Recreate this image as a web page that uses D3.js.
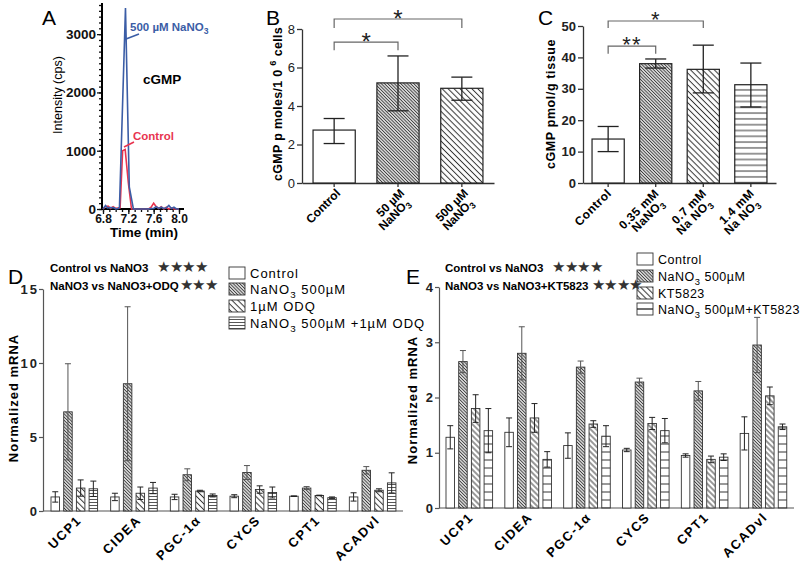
<!DOCTYPE html>
<html><head><meta charset="utf-8">
<script src="https://cdn.jsdelivr.net/npm/d3@7"></script>
<style>
body{margin:0;background:#fff}
svg{font-family:"Liberation Sans",Arial,sans-serif}
</style>
</head><body>
<svg id="c" width="800" height="567"></svg>
<script>
// ---------------- DATA ----------------
// Panel A: chromatogram
const aTimeBlue = [6.80,6.84,6.87,6.92,6.98,7.00,7.04,7.06,7.155,7.215,7.28,7.32,7.40,7.50,7.60,7.64,7.68,7.72,7.76,7.80,7.84,7.88,7.92,7.96,8.00];
const aBlue     = [0,60,20,25,20,0,10,30,3450,380,0,0,0,0,10,40,10,30,10,20,60,10,30,0,0];
const aTimeRed  = [6.80,6.84,6.88,6.92,6.96,7.00,7.07,7.11,7.15,7.20,7.25,7.30,7.40,7.52,7.56,7.60,7.64,7.68,7.72,7.76,7.80,7.84,7.88,7.92,8.00];
const aRed      = [0,40,50,10,40,10,20,1000,1020,450,0,0,0,0,30,100,40,10,40,0,30,0,20,0,0];
const aYTicks = [0,1000,2000,3000];
const aXTicks = [6.8,7.2,7.6,8.0];

// Panel B
const bCategories = ["Control","50 µM|NaNO_3","500 µM|NaNO_3"];
const bMeans = [2.75,5.2,4.92];
const bLow   = [2.05,3.75,4.3];
const bHigh  = [3.35,6.6,5.5];
const bYTicks = [0,2,4,6,8];
const bBrackets = [{from:0,to:1,level:7.32,leg:6.9,label:"*"},{from:0,to:2,level:8.52,leg:8.05,label:"*"}];

// Panel C
const cCategories = ["Control","0.35 mM|NaNO_3","0.7 mM|Na NO_3","1.4 mM|Na NO_3"];
const cMeans = [14,38,36.2,31.3];
const cLow   = [10,36.6,28.7,24.2];
const cHigh  = [18,39.5,43.9,38.2];
const cYTicks = [0,10,20,30,40,50];
const cBrackets = [{from:0,to:1,level:43.6,leg:41.2,label:"**"},{from:0,to:2,level:51.6,leg:49.4,label:"*"}];

// Panels D & E
const genes = ["UCP1","CIDEA","PGC-1α","CYCS","CPT1","ACADvl"];
const dSeries = ["Control","NaNO_3 500µM","1µM ODQ","NaNO_3 500µM +1µM ODQ"];
const dControl = [0.95,0.95,0.95,1.0,1.0,0.95];
const dNitrate = [6.7,8.6,2.45,2.6,1.55,2.75];
const dODQ     = [1.55,1.2,1.35,1.45,1.05,1.4];
const dCombo   = [1.5,1.55,1.05,1.25,0.9,1.9];
const dControlErr = [0.35,0.25,0.18,0.1,0.02,0.28];
const dNitrateErr = [3.25,5.2,0.4,0.47,0.1,0.25];
const dODQErr     = [0.55,0.42,0.05,0.25,0.02,0.1];
const dComboErr   = [0.52,0.38,0.1,0.37,0.05,0.68];
const dYTicks = [0,5,10,15];

const eSeries = ["Control","NaNO_3 500µM","KT5823","NaNO_3 500µM+KT5823"];
const eControl = [1.28,1.37,1.13,1.05,0.95,1.35];
const eNitrate = [2.65,2.8,2.55,2.28,2.12,2.95];
const eKT      = [1.8,1.63,1.52,1.53,0.88,2.03];
const eCombo   = [1.4,0.88,1.3,1.4,0.92,1.47];
const eControlErr = [0.21,0.26,0.23,0.03,0.03,0.3];
const eNitrateErr = [0.2,0.48,0.11,0.07,0.17,0.5];
const eKTErr      = [0.25,0.26,0.06,0.11,0.06,0.16];
const eComboErr   = [0.4,0.14,0.19,0.22,0.06,0.05];
const eYTicks = [0,1,2,3,4];

// ---------------- HELPERS ----------------
const svg = d3.select("#c");
const defs = svg.append("defs");
function pattern(id,size,angle,sw,color){
  const p = defs.append("pattern").attr("id",id).attr("patternUnits","userSpaceOnUse")
    .attr("width",size).attr("height",size).attr("patternTransform",`rotate(${angle})`);
  p.append("rect").attr("width",size).attr("height",size).attr("fill","#fff");
  p.append("line").attr("x1",size/2).attr("x2",size/2).attr("y1",0).attr("y2",size)
    .attr("stroke",color).attr("stroke-width",sw);
}
pattern("dense",2.3,-45,1.1,"#3a3a3a");
pattern("sparse",4.2,-45,1,"#333");
pattern("sparseE",4.0,-45,1,"#333");
pattern("hC",5.8,90,1,"#333");
pattern("hD",3,90,0.9,"#444");
pattern("hE",8,90,1,"#333");

function rich(sel,s,sub=3){
  const parts = s.split(/(_[0-9]|\^[0-9])/).filter(p=>p.length);
  let shift = 0;
  parts.forEach(p=>{
    if(p[0]==="_"||p[0]==="^"){
      const d = p[0]==="_"?sub:-6;
      sel.append("tspan").attr("dy",d).attr("font-size","75%").text(p.slice(1));
      shift = d;
    } else {
      const t = sel.append("tspan").text(p);
      if(shift){ t.attr("dy",-shift); shift = 0; }
    }
  });
  return sel;
}
function panelLetter(x,y,t){
  svg.append("text").attr("x",x).attr("y",y).attr("font-size",21).text(t);
}

// ---------------- PANEL A ----------------
(function(){
  const x = d3.scaleLinear().domain([6.8,8.0]).range([103,179]);
  const y = d3.scaleLinear().domain([0,3500]).range([209,5]);
  const g = svg.append("g");
  g.append("g").attr("transform","translate(102,0)")
    .call(d3.axisLeft(y).tickValues(d3.range(0,3501,100)).tickSize(3).tickFormat(""))
    .call(s=>s.select(".domain").remove());
  g.append("g").attr("transform","translate(0,209)")
    .call(d3.axisBottom(x).tickValues(d3.range(6.8,8.01,0.1)).tickSize(3).tickFormat(""))
    .call(s=>s.select(".domain").remove());
  const ya = g.append("g").attr("transform","translate(102,0)")
    .call(d3.axisLeft(y).tickValues(aYTicks).tickSize(5).tickSizeOuter(0).tickFormat(d3.format("d")));
  ya.select(".domain").remove();
  ya.selectAll("text").attr("font-size",13.5).attr("font-weight","bold").attr("fill","#111").attr("x",-6).attr("font-family","Liberation Sans");
  const xa = g.append("g").attr("transform","translate(0,209)")
    .call(d3.axisBottom(x).tickValues(aXTicks).tickSize(5).tickSizeOuter(0).tickFormat(d3.format(".1f")));
  xa.select(".domain").remove();
  xa.selectAll("text").attr("font-size",12).attr("font-weight","bold").attr("fill","#111").attr("y",5).attr("font-family","Liberation Sans");
  g.selectAll(".tick line").attr("stroke","#111").attr("stroke-width",1.3);
  g.append("line").attr("x1",102).attr("x2",102).attr("y1",210).attr("y2",3).attr("stroke","#000").attr("stroke-width",2);
  g.append("line").attr("x1",101).attr("x2",184).attr("y1",209).attr("y2",209).attr("stroke","#000").attr("stroke-width",2);
  const line = d3.line().x(d=>x(d[0])).y(d=>y(d[1]));
  g.append("path").datum(d3.zip(aTimeRed,aRed)).attr("d",line).attr("fill","none").attr("stroke","#e8344f").attr("stroke-width",1.6);
  g.append("path").datum(d3.zip(aTimeBlue,aBlue)).attr("d",line).attr("fill","none").attr("stroke","#3b5da6").attr("stroke-width",1.6);
  rich(g.append("text").attr("x",130).attr("y",31).attr("font-size",11.5).attr("font-weight","bold").attr("fill","#3b5da6"),"500 µM NaNO_3",3);
  g.append("line").attr("x1",126).attr("y1",39).attr("x2",139).attr("y2",34).attr("stroke","#3b5da6").attr("stroke-width",1.6);
  g.append("text").attr("x",133).attr("y",140).attr("font-size",11.5).attr("font-weight","bold").attr("fill","#e8344f").text("Control");
  g.append("line").attr("x1",124).attr("y1",147).attr("x2",134).attr("y2",142).attr("stroke","#e8344f").attr("stroke-width",1.6);
  g.append("text").attr("x",143).attr("y",84).attr("font-size",13.5).attr("font-weight","bold").text("cGMP");
  g.append("text").attr("transform","translate(62,95) rotate(-90)").attr("text-anchor","middle").attr("font-size",12.5).text("Intensity (cps)");
  g.append("text").attr("x",144).attr("y",237).attr("text-anchor","middle").attr("font-size",13.5).attr("font-weight","bold").text("Time (min)");
  panelLetter(42,25,"A");
})();

// ---------------- simple bar panel (B, C) ----------------
function barPanel(o){
  const g = svg.append("g");
  const x = d3.scaleBand().domain(o.cats).range(o.xr).paddingInner(o.pi).paddingOuter(o.po);
  const y = d3.scaleLinear().domain(o.yd).range(o.yr);
  const bw = x.bandwidth();
  const ya = g.append("g").attr("transform",`translate(${o.xr[0]},0)`)
    .call(d3.axisLeft(y).tickValues(o.yticks).tickSize(5).tickSizeOuter(0).tickFormat(d3.format("d")));
  ya.selectAll("text").attr("font-size",o.tfs).attr("font-weight",o.tfw).attr("fill","#222").attr("font-family","Liberation Sans").attr("x",-7);
  ya.select(".domain").attr("stroke","#333").attr("stroke-width",1.3);
  ya.selectAll(".tick line").attr("stroke","#333").attr("stroke-width",1.3);
  const xa = g.append("g").attr("transform",`translate(0,${o.yr[0]})`)
    .call(d3.axisBottom(x).tickSize(4).tickSizeOuter(0).tickFormat(""));
  xa.select(".domain").attr("stroke","#333").attr("stroke-width",1.3);
  xa.selectAll(".tick line").attr("stroke","#333").attr("stroke-width",1.3);
  g.selectAll("rect.bar").data(o.cats).join("rect").attr("class","bar")
    .attr("x",d=>x(d)).attr("width",bw)
    .attr("y",(d,i)=>y(o.means[i])).attr("height",(d,i)=>y(0)-y(o.means[i]))
    .attr("fill",(d,i)=>o.fills[i]).attr("stroke","#222").attr("stroke-width",1.2);
  const eb = g.selectAll("g.eb").data(o.cats).join("g").attr("class","eb");
  eb.append("line").attr("x1",d=>x(d)+bw/2).attr("x2",d=>x(d)+bw/2)
    .attr("y1",(d,i)=>y(o.low[i])).attr("y2",(d,i)=>y(o.high[i]));
  eb.append("line").attr("x1",d=>x(d)+bw/2-o.cap).attr("x2",d=>x(d)+bw/2+o.cap)
    .attr("y1",(d,i)=>y(o.high[i])).attr("y2",(d,i)=>y(o.high[i]));
  eb.append("line").attr("x1",d=>x(d)+bw/2-o.cap).attr("x2",d=>x(d)+bw/2+o.cap)
    .attr("y1",(d,i)=>y(o.low[i])).attr("y2",(d,i)=>y(o.low[i]));
  eb.selectAll("line").attr("stroke","#222").attr("stroke-width",1.3);
  o.brackets.forEach(b=>{
    const x1 = x(o.cats[b.from])+bw/2, x2 = x(o.cats[b.to])+bw/2;
    g.append("path").attr("d",`M${x1},${y(b.leg)}V${y(b.level)}H${x2}V${y(b.leg)}`)
      .attr("fill","none").attr("stroke","#666").attr("stroke-width",1.2);
    g.append("text").attr("x",(x1+x2)/2).attr("y",y(b.level)+o.starDy).attr("text-anchor","middle")
      .attr("font-size",o.starFs).attr("fill","#222").attr("letter-spacing",o.starLs||0).text(b.label);
  });
  o.cats.forEach((c,i)=>{
    const lines = c.split("|");
    const lg = g.append("g").attr("transform",`translate(${x(c)+bw/2+o.lx},${o.yr[0]+o.ly}) rotate(-45)`);
    lines.forEach((l,j)=>{
      rich(lg.append("text").attr("text-anchor","end").attr("y",j*o.lh).attr("x",-j*3)
        .attr("font-size",o.lfs).attr("font-weight",o.lfw).attr("letter-spacing",o.lls||0),l,3);
    });
  });
  return {x,y,g};
}

// ---------------- PANEL B ----------------
(function(){
  const p = barPanel({cats:bCategories,means:bMeans,low:bLow,high:bHigh,yticks:bYTicks,
    xr:[302,494],pi:0.339,po:0.173,yd:[0,8],yr:[183,29],
    fills:["#fff","url(#dense)","url(#sparse)"],cap:10.5,brackets:bBrackets,
    starDy:8,starFs:24,tfs:13,tfw:"normal",lx:7,ly:11,lh:11,lfs:12,lfw:"bold"});
  const t = p.g.append("text").attr("transform","translate(282,104) rotate(-90)").attr("text-anchor","middle")
    .attr("font-size",12.5).attr("font-weight","bold").attr("letter-spacing",0.3);
  rich(t,"cGMP  p moles/1 0 ^6 cells");
  panelLetter(266,25,"B");
})();

// ---------------- PANEL C ----------------
(function(){
  const p = barPanel({cats:cCategories,means:cMeans,low:cLow,high:cHigh,yticks:cYTicks,
    xr:[583,776],pi:0.323,po:0.19,yd:[0,50],yr:[183,26],
    fills:["#fff","url(#dense)","url(#sparse)","url(#hC)"],cap:10.5,brackets:cBrackets,
    starDy:6,starFs:22,starLs:1,tfs:13,tfw:"bold",lx:4,ly:11,lh:11,lfs:12,lfw:"bold",lls:0.5});
  p.g.append("text").attr("transform","translate(555,104) rotate(-90)").attr("text-anchor","middle")
    .attr("font-size",12.5).attr("font-weight","bold").attr("letter-spacing",0.6).text("cGMP  pmol/g tissue");
  panelLetter(538,25,"C");
})();

// ---------------- grouped panels (D, E) ----------------
function groupedPanel(o){
  const g = svg.append("g");
  const x0 = d3.scaleBand().domain(genes).range(o.xr);
  const x1 = d3.scaleBand().domain(o.series).range([o.inner, o.inner+46.6]).paddingInner(0.33);
  const y = d3.scaleLinear().domain(o.yd).range(o.yr);
  const bw = x1.bandwidth();
  const ya = g.append("g").attr("transform",`translate(${o.xr[0]-2},0)`)
    .call(d3.axisLeft(y).tickValues(o.yticks).tickSize(4).tickSizeOuter(0).tickFormat(d3.format("d")));
  ya.selectAll("text").attr("font-size",13).attr("font-weight","bold").attr("fill","#222")
    .attr("font-family","Liberation Sans").attr("letter-spacing",2).attr("x",-4);
  ya.select(".domain").attr("stroke","#555").attr("stroke-width",1.2);
  ya.selectAll(".tick line").attr("stroke","#555").attr("stroke-width",1.2);
  g.append("line").attr("x1",o.xr[0]-2).attr("x2",o.xr[1]).attr("y1",o.yr[0]).attr("y2",o.yr[0])
    .attr("stroke","#555").attr("stroke-width",1.2);
  const rows = genes.map((gn,i)=>o.series.map((s,k)=>({gene:gn,s,k,v:o.vals[k][i],e:o.errs[k][i]}))).flat();
  const bx = d=>x0(d.gene)+x1(d.s);
  g.selectAll("rect.bar").data(rows).join("rect").attr("class","bar")
    .attr("x",bx).attr("width",bw).attr("y",d=>y(d.v)).attr("height",d=>y(0)-y(d.v))
    .attr("fill",d=>o.fills[d.k]).attr("stroke","#333").attr("stroke-width",0.9);
  const eb = g.selectAll("g.eb").data(rows).join("g").attr("class","eb")
    .attr("stroke",d=>d.k===1?"#555":"#222").attr("stroke-width",1);
  eb.append("line").attr("x1",d=>bx(d)+bw/2).attr("x2",d=>bx(d)+bw/2).attr("y1",d=>y(d.v-d.e)).attr("y2",d=>y(d.v+d.e));
  eb.append("line").attr("x1",d=>bx(d)+bw/2-3).attr("x2",d=>bx(d)+bw/2+3).attr("y1",d=>y(d.v+d.e)).attr("y2",d=>y(d.v+d.e));
  eb.append("line").attr("x1",d=>bx(d)+bw/2-3).attr("x2",d=>bx(d)+bw/2+3).attr("y1",d=>y(d.v-d.e)).attr("y2",d=>y(d.v-d.e));
  genes.forEach(gn=>{
    const cx = x0(gn)+o.inner+23.3;
    g.append("text").attr("transform",`translate(${cx+o.lx},${o.yr[0]+o.ly}) rotate(-45)`)
      .attr("text-anchor","end").attr("font-size",13).attr("font-weight","bold").attr("letter-spacing",1.5).text(gn);
  });
  o.series.forEach((s,k)=>{
    const yy = o.legY[k];
    g.append("rect").attr("x",o.legX).attr("y",yy-6).attr("width",16).attr("height",12)
      .attr("fill",o.legFills[k]).attr("stroke","#333").attr("stroke-width",0.9);
    if(o.legMid && k===3){
      g.append("line").attr("x1",o.legX).attr("x2",o.legX+16).attr("y1",yy).attr("y2",yy).attr("stroke","#222").attr("stroke-width",1.3);
    }
    rich(g.append("text").attr("x",o.legX+21).attr("y",yy+5).attr("font-size",o.legFs).attr("letter-spacing",o.legLs),s,4);
  });
  o.notes.forEach((n,j)=>{
    const t = g.append("text").attr("x",o.noteX).attr("y",o.noteY[j]).attr("font-size",11.5).attr("font-weight","bold");
    t.append("tspan").text(n.text);
    t.append("tspan").attr("font-size",15).attr("font-weight","normal").attr("fill","#333").attr("letter-spacing",-0.5).attr("dx",n.gap).text(n.stars);
  });
  g.append("text").attr("transform",`translate(${o.ylabX},${o.ylabY}) rotate(-90)`).attr("text-anchor","middle")
    .attr("font-size",13).attr("font-weight","bold").attr("letter-spacing",1).text("Normalized mRNA");
  return g;
}

// ---------------- PANEL D ----------------
groupedPanel({series:dSeries,vals:[dControl,dNitrate,dODQ,dCombo],errs:[dControlErr,dNitrateErr,dODQErr,dComboErr],
  xr:[45,403],inner:6,yd:[0,15],yr:[511,289],yticks:dYTicks,
  fills:["#fff","url(#dense)","url(#sparse)","url(#hD)"],
  legFills:["#fff","url(#dense)","url(#sparse)","url(#hD)"],legX:229,legY:[273,289,306,323],legFs:13,legLs:1,
  notes:[{text:"Control vs NaNO3",stars:"★★★★",gap:9},{text:"NaNO3 vs NaNO3+ODQ",stars:"★★★",gap:1}],
  noteX:50,noteY:[272,290],lx:8,ly:10,ylabX:18,ylabY:398});
panelLetter(8,284,"D");

// ---------------- PANEL E ----------------
groupedPanel({series:eSeries,vals:[eControl,eNitrate,eKT,eCombo],errs:[eControlErr,eNitrateErr,eKTErr,eComboErr],
  xr:[441,794],inner:5,yd:[0,4],yr:[508,287],yticks:eYTicks,
  fills:["#fff","url(#dense)","url(#sparseE)","url(#hE)"],
  legFills:["#fff","url(#dense)","url(#sparse)","#fff"],legMid:true,legX:637,legY:[259,276,293,309],legFs:12.5,legLs:0.5,
  notes:[{text:"Control vs NaNO3",stars:"★★★★",gap:9},{text:"NaNO3 vs NaNO3+KT5823",stars:"★★★★",gap:3}],
  noteX:445,noteY:[272,290],lx:5,ly:10,ylabX:417,ylabY:400});
panelLetter(406,284,"E");
</script>
</body></html>
